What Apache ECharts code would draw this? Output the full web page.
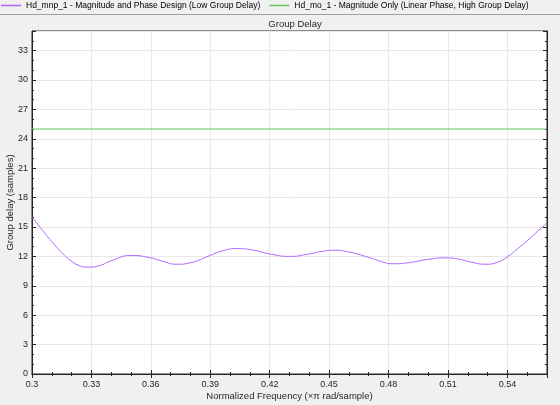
<!DOCTYPE html>
<html>
<head>
<meta charset="utf-8">
<script src="https://cdn.jsdelivr.net/npm/echarts@6/dist/echarts.min.js"></script>
<style>
html,body{margin:0;padding:0;background:#f0f0f0;}
#c{width:560px;height:405px;}
</style>
</head>
<body>
<div id="c"></div>
<script>
var freq = [0.300,0.305,0.310,0.315,0.320,0.324,0.328,0.333,0.340,0.350,0.360,0.366,0.373,0.380,0.390,0.396,0.403,0.410,0.420,0.430,0.440,0.446,0.453,0.460,0.470,0.476,0.482,0.490,0.500,0.509,0.516,0.522,0.529,0.535,0.540,0.545,0.550,0.5595];
var mnp  = [16.0,14.75,13.5,12.4,11.5,11.05,10.9,11.0,11.55,12.1,11.85,11.5,11.2,11.35,12.1,12.55,12.8,12.7,12.25,12.0,12.25,12.5,12.63,12.45,11.9,11.5,11.25,11.35,11.7,11.85,11.7,11.4,11.2,11.4,11.95,12.75,13.6,15.35];
var moValue = 25;
var xTicks = {min:0.3, max:0.56, interval:0.03};
var yTicks = {min:0, max:35, interval:3};
var names = ['Hd_mnp_1 - Magnitude and Phase Design (Low Group Delay)','Hd_mo_1 - Magnitude Only (Linear Phase, High Group Delay)'];

var mnpData = freq.map(function(f,i){return [f, mnp[i]];});
var moData = [[xTicks.min, moValue],[xTicks.max, moValue]];

var axisColor = '#262626';
var font = 'Liberation Sans, Arial, sans-serif';
function fmt(v){ return String(parseFloat(v.toFixed(2))); }

var chart = echarts.init(document.getElementById('c'), null, {renderer:'canvas'});
chart.setOption({
  backgroundColor:'#f0f0f0',
  animation:false,
  textStyle:{fontFamily:font},
  title:{text:'Group Delay', left:290, top:14, textAlign:'center',
    textStyle:{fontSize:9.5, fontWeight:'normal', color:'#262626', fontFamily:font}},
  legend:{orient:'horizontal', left:-1, top:1, width:570, padding:[0,2], itemWidth:20, itemHeight:1.5, itemGap:9, icon:'rect',
    textStyle:{fontSize:8.5, color:'#000', fontFamily:font},
    data:names},
  graphic:[{type:'line', shape:{x1:0,y1:14.5,x2:560,y2:14.5}, style:{stroke:'#a0a0a0', lineWidth:1}}],
  grid:{left:32, right:13, top:31, bottom:31, outerBoundsMode:'none', containLabel:false, show:true, backgroundColor:'#ffffff', borderColor:axisColor, borderWidth:1},
  xAxis:[{
    type:'value', min:xTicks.min, max:xTicks.max, interval:xTicks.interval,
    name:'Normalized Frequency (\u00d7\u03c0 rad/sample)', nameLocation:'middle', nameGap:17, nameMoveOverlap:false,
    nameTextStyle:{fontSize:9.5, color:axisColor},
    axisLine:{show:true, lineStyle:{color:axisColor}},
    axisTick:{show:true, inside:true, length:4, lineStyle:{color:axisColor}},
    minorTick:{show:true, splitNumber:3, length:2, lineStyle:{color:axisColor}},
    axisLabel:{fontSize:9, color:axisColor, margin:6, formatter:fmt, showMaxLabel:false},
    splitLine:{show:true, lineStyle:{color:'#e8e8e8'}}
  },{
    type:'value', position:'top', min:xTicks.min, max:xTicks.max, interval:xTicks.interval,
    axisLine:{show:true, lineStyle:{color:axisColor}},
    axisTick:{show:true, inside:true, length:4, lineStyle:{color:axisColor}},
    minorTick:{show:true, splitNumber:3, length:2, lineStyle:{color:axisColor}},
    axisLabel:{show:false}, splitLine:{show:false}
  }],
  yAxis:[{
    type:'value', min:yTicks.min, max:yTicks.max, interval:yTicks.interval,
    name:'Group delay (samples)', nameLocation:'middle', nameGap:17, nameMoveOverlap:false,
    nameTextStyle:{fontSize:9.5, color:axisColor},
    axisLine:{show:true, lineStyle:{color:axisColor}},
    axisTick:{show:true, inside:true, length:4, lineStyle:{color:axisColor}},
    minorTick:{show:true, splitNumber:3, length:2, lineStyle:{color:axisColor}},
    axisLabel:{fontSize:9, color:axisColor, margin:4, showMaxLabel:false},
    splitLine:{show:true, lineStyle:{color:'#e8e8e8'}}
  },{
    type:'value', position:'right', min:yTicks.min, max:yTicks.max, interval:yTicks.interval,
    axisLine:{show:true, lineStyle:{color:axisColor}},
    axisTick:{show:true, inside:true, length:4, lineStyle:{color:axisColor}},
    minorTick:{show:true, splitNumber:3, length:2, lineStyle:{color:axisColor}},
    axisLabel:{show:false}, splitLine:{show:false}
  }],
  series:[{
    name:names[0], type:'line', data:mnpData, smooth:0.5, showSymbol:false,
    lineStyle:{width:1, color:'#b266ff'}, itemStyle:{color:'#b266ff'}
  },{
    name:names[1], type:'line', data:moData, showSymbol:false,
    lineStyle:{width:1.2, color:'#5ec85e'}, itemStyle:{color:'#5ec85e'}
  }]
});
</script>
</body>
</html>
